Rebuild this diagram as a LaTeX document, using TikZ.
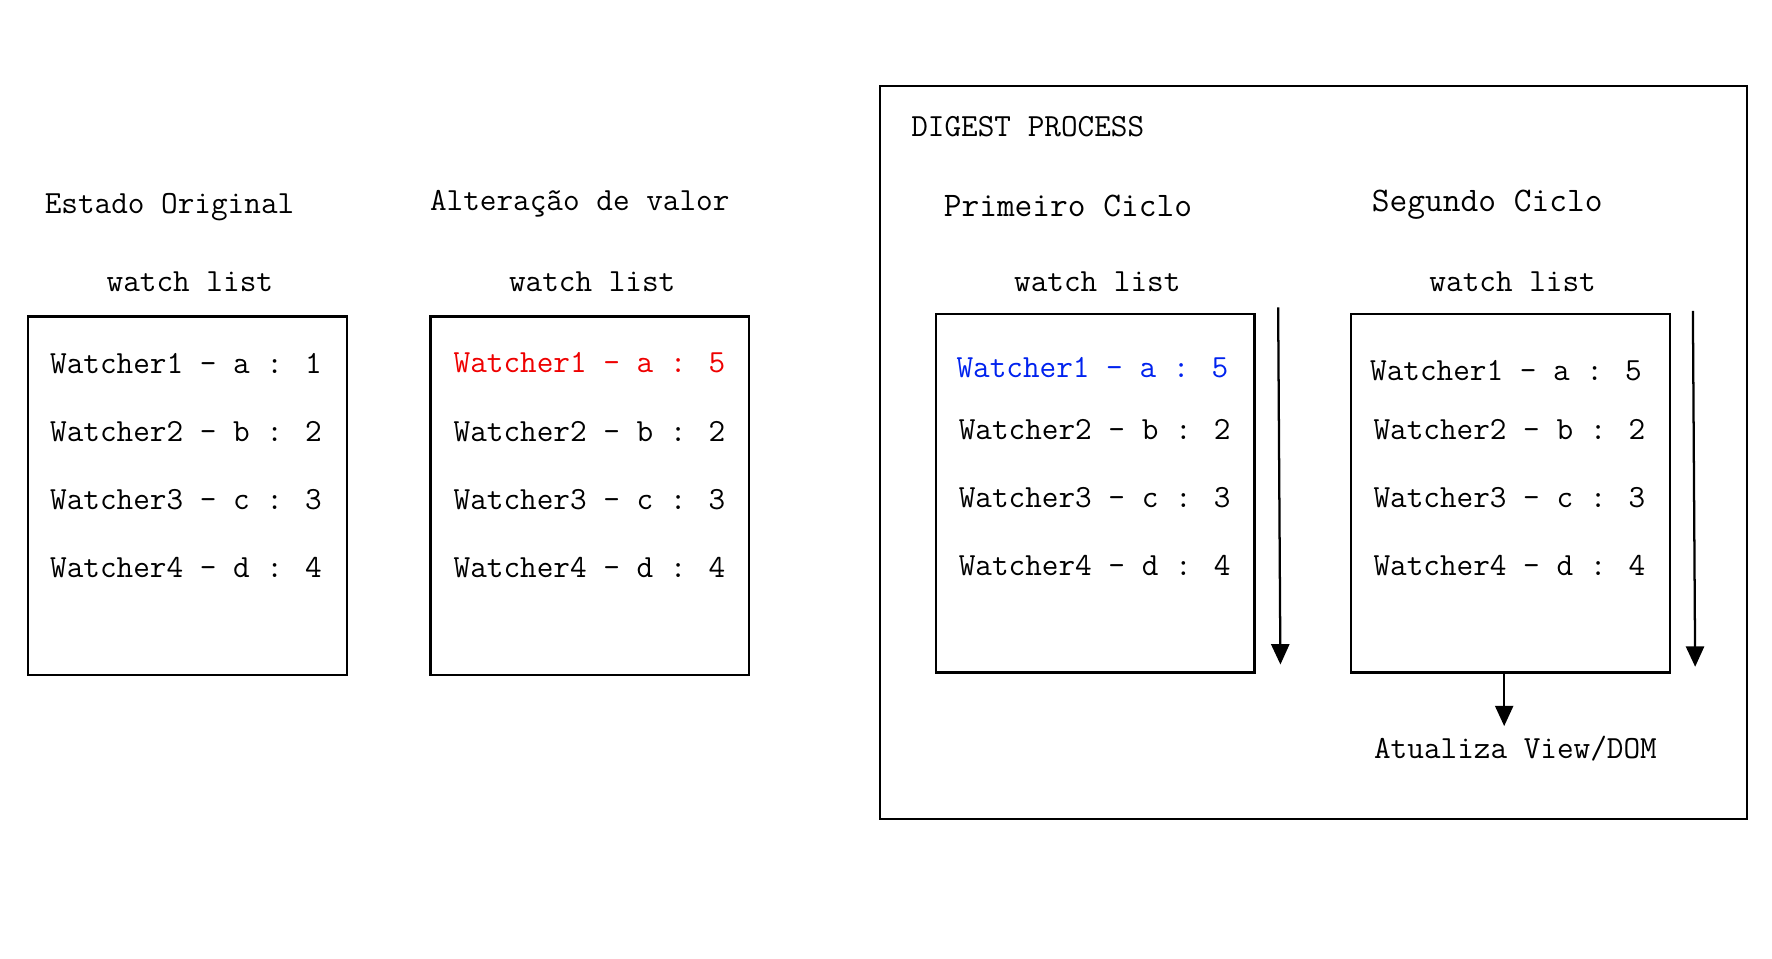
\documentclass[tikz,border=0pt]{standalone}
\usepackage{fontspec}
\usepackage{xcolor}
\usepackage{tikz}
\usetikzlibrary{positioning, arrows.meta}
\definecolor{changed}{HTML}{EE0000}
\definecolor{checked}{HTML}{0022EE}
\tikzstyle{label}=[font=\ttfamily\fontsize{14.29}{17}\selectfont, inner sep=0pt]
\tikzstyle{cycle}=[font=\ttfamily\fontsize{15.24}{18}\selectfont, inner sep=0pt]
\tikzstyle{row}=[label, anchor=west]
\tikzstyle{watchbox}=[draw, line width=1pt, minimum width=141pt, minimum height=158.5pt, inner sep=0pt]
\tikzstyle{arrow}=[line width=1pt, -{Triangle[length=9pt, width=8pt]}]

\begin{document}
\begin{tikzpicture}[x=0.5pt, y=-0.5pt]
      \useasboundingbox (0,0) rectangle (1568,848);

      % digest frame
      \node [draw, line width=1pt, minimum width=383.5pt, minimum height=324.5pt, inner sep=0pt] (digest) at (1162.5,400.5) {};
      \node [label, anchor=west] (digest-title) at (806,112) {DIGEST PROCESS};

      % titles
      \node [label] (title-1) at (150,183) {Estado Original};
      \node [label] (title-2) at (513,180) {Alteração de valor};
      \node [cycle] (title-3) at (945,182) {Primeiro Ciclo};
      \node [cycle] (title-4) at (1316,181) {Segundo Ciclo};

      % watch lists
      \foreach \x/\y [count=\i] in {166/438.5, 522/438.5, 969/436.5, 1336.5/436.5}{
        \node [watchbox] (list-\i) at (\x,\y) {};
        \node [label] (head-\i) at (\x+2,249) {watch list};
      }

      % rows
      \foreach \n/\v [count=\i] in {a/1, b/2, c/3, d/4}{
        \node [row] (orig-\i) at (44,322+60*\i-60) {Watcher\i{} - \n{} : \v};
      }
      \node [row, text=changed] (alt-1) at (401,321) {Watcher1 - a : 5};
      \foreach \n/\v [count=\i from 2] in {b/2, c/3, d/4}{
        \node [row] (alt-\i) at (401,322+60*\i-60) {Watcher\i{} - \n{} : \v};
      }
      \node [row, text=checked] (first-1) at (846,325) {Watcher1 - a : 5};
      \node [row] (second-1) at (1212,328) {Watcher1 - a : 5};
      \foreach \n/\v [count=\i from 2] in {b/2, c/3, d/4}{
        \node [row] (first-\i) at (848,380+60*\i-120) {Watcher\i{} - \n{} : \v};
        \node [row] (second-\i) at (1215,380+60*\i-120) {Watcher\i{} - \n{} : \v};
      }

      % cycles
      \coordinate (loop-1a) at (1131,272);
      \coordinate (loop-1b) at (1133,588);
      \coordinate (loop-2a) at (1498,275);
      \coordinate (loop-2b) at (1500,590);
      \draw [arrow] (loop-1a) -- (loop-1b);
      \draw [arrow] (loop-2a) -- (loop-2b);

      \node [label] (update) at (1341,662) {Atualiza View/DOM};
      \draw [arrow] ([xshift=-2.75pt]list-4.south) -- ([xshift=-2.75pt, yshift=4pt]list-4.south |- update.north);
    \end{tikzpicture}
\end{document}
